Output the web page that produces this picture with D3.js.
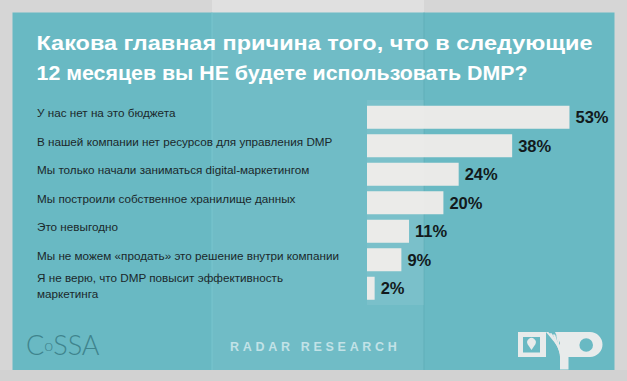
<!DOCTYPE html>
<html>
<head>
<meta charset="utf-8">
<script src="https://cdn.jsdelivr.net/npm/d3@7"></script>
<style>
html,body{margin:0;padding:0;background:#d8d8d8;}
svg{display:block;}
</style>
</head>
<body>
<svg id="chart" width="627" height="381"></svg>
<script>
const titleLines = ["Какова главная причина того, что в следующие", "12 месяцев вы НЕ будете использовать DMP?"];
const categories = [
  "У нас нет на это бюджета",
  "В нашей компании нет ресурсов для управления DMP",
  "Мы только начали заниматься digital-маркетингом",
  "Мы построили собственное хранилище данных",
  "Это невыгодно",
  "Мы не можем «продать» это решение внутри компании",
  "Я не верю, что DMP повысит эффективность\nмаркетинга"
];
const values = [53, 38, 24, 20, 11, 9, 2];
const valueLabels = ["53%", "38%", "24%", "20%", "11%", "9%", "2%"];
const footerText = "RADAR RESEARCH";

const svg = d3.select("#chart");
const W = 627, H = 381;

// background
svg.append("rect").attr("width", W).attr("height", H).attr("fill", "#d6d6d6");
svg.append("rect").attr("x", 212).attr("y", 0).attr("width", 212).attr("height", 13).attr("fill", "#e0e0e0");
svg.append("rect").attr("x", 0).attr("y", 370).attr("width", W).attr("height", 11).attr("fill", "#d2d2d2");
// panel
svg.append("rect").attr("x", 12.5).attr("y", 12.5).attr("width", 602).attr("height", 357.5).attr("fill", "#69b9c3");
svg.append("rect").attr("x", 212).attr("y", 12.5).attr("width", 212).attr("height", 357.5).attr("fill", "#ffffff").attr("opacity", 0.05);
svg.append("line").attr("x1", 424).attr("x2", 424).attr("y1", 12.5).attr("y2", 370).attr("stroke", "#5eacb6").attr("stroke-width", 0.8);
svg.append("line").attr("x1", 212).attr("x2", 212).attr("y1", 12.5).attr("y2", 370).attr("stroke", "#7cc8d1").attr("stroke-width", 0.8);

// title
const title = svg.append("g");
titleLines.forEach((t, i) => {
  const el = title.append("text")
    .attr("x", 36.5).attr("y", 50 + i * 29.5)
    .attr("font-family", "'Liberation Sans', Arial, sans-serif")
    .attr("font-weight", "bold").attr("font-size", 21)
    .attr("fill", "#ffffff").text(t);
  const target = i === 0 ? 556 : 491;
  el.attr("textLength", target).attr("lengthAdjust", "spacingAndGlyphs");
});

// scales
const x = d3.scaleLinear().domain([0, 100]).range([367, 749]);
const y = d3.scaleBand().domain(categories).range([103, 302.5]).paddingInner(0.193).paddingOuter(0.0965);

// bars
svg.append("g").selectAll("rect").data(values).join("rect")
  .attr("x", x(0))
  .attr("y", (d, i) => y(categories[i]))
  .attr("width", d => x(d) - x(0))
  .attr("height", y.bandwidth())
  .attr("fill", "#eaeae8");
// fold highlight over bars
svg.append("rect").attr("x", 367).attr("y", 100).attr("width", 424 - 367).attr("height", 205).attr("fill", "#ffffff").attr("opacity", 0.07);

// value labels
svg.append("g").selectAll("text").data(values).join("text")
  .attr("x", d => x(d) + 6)
  .attr("y", (d, i) => y(categories[i]) + y.bandwidth() / 2 + 6)
  .attr("font-family", "'Liberation Sans', Arial, sans-serif")
  .attr("font-weight", "bold").attr("font-size", 16.5)
  .attr("fill", "#121a1c")
  .text((d, i) => valueLabels[i]);

// category labels
const lab = svg.append("g");
categories.forEach((c, i) => {
  const lines = c.split("\n");
  const cy = y(c) + y.bandwidth() / 2;
  const base = lines.length > 1 ? cy - 6 : cy;
  const t = lab.append("text")
    .attr("font-family", "'Liberation Sans', Arial, sans-serif")
    .attr("font-size", 11.7).attr("fill", "#1b282b");
  lines.forEach((l, j) => {
    t.append("tspan").attr("x", 37).attr("y", base + j * 16).text(l);
  });
});

// footer: CoSSA logo
const cossa = svg.append("text").attr("x", 26).attr("y", 355)
  .attr("font-family", "Lato, 'Open Sans', sans-serif").attr("font-weight", 300)
  .attr("font-size", 27).attr("fill", "#3f848d");
cossa.append("tspan").text("C");
cossa.append("tspan").attr("font-size", 16).attr("dy", -4).text("o");
cossa.append("tspan").attr("dy", 4).text("SSA");

// RADAR RESEARCH
svg.append("text").attr("x", 230).attr("y", 351)
  .attr("font-family", "'Liberation Sans', Arial, sans-serif").attr("font-weight", "bold")
  .attr("font-size", 12.5).attr("letter-spacing", 3.7)
  .attr("fill", "#cbe7eb").attr("opacity", 0.9).text(footerText);

// DMP logo
const logo = svg.append("g").attr("fill", "#e8ebeb");
logo.append("path").attr("fill-rule", "evenodd")
  .attr("d", "M518,332 H546 V357 H518 Z M523,337 V352.5 H540 V337 Z");
// pin
logo.append("path").attr("d", "M531.5,350 L527.8,344.5 A4.3,4.3 0 1 1 535.2,344.5 Z");
// stripes
[0, 1, 2, 3].forEach(k => {
  logo.append("path").attr("d", `M${546 + k * 3.4},${332 + k * 1.2} L${548.3 + k * 3.4},${332 + k * 1.2} L${560},${345 + k * 2.5} L${560},${349 + k * 2.5} Z`);
});
// stem "1"
logo.append("path").attr("d", "M555,332 H568.5 V369.5 H560 V343 Z");
// P
logo.append("path").attr("fill-rule", "evenodd")
  .attr("d", "M568,332 H590 A12.5,12.5 0 0 1 590,357 H568 Z M593,345 A6.8,6.8 0 1 0 579.4,345 A6.8,6.8 0 1 0 593,345 Z");
</script>
</body>
</html>
